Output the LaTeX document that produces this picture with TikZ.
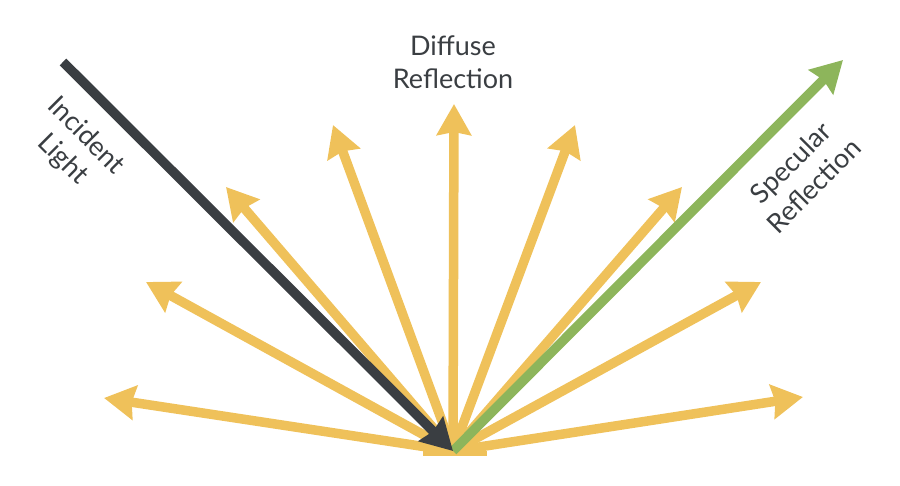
\documentclass[tikz,border=0pt]{standalone}
\usepackage{fontspec}
\setmainfont{Lato}
\usetikzlibrary{arrows.meta}
\definecolor{sun}{HTML}{EFC15A}
\definecolor{leaf}{HTML}{8DB55B}
\definecolor{ink}{HTML}{3A3E42}
\begin{document}
\begin{tikzpicture}[x=1pt,y=1pt]
	\tikzset{ray/.style={line width=9.5pt,-{Stealth[length=31pt,width=34pt,inset=3pt]}},
		label/.style={text=ink,font=\fontsize{27}{33}\selectfont,align=center}}
	\useasboundingbox (0,0) rectangle (900,485);
	\coordinate (o) at (453,34);
	\coordinate (bl) at (423,32);
	\coordinate (br) at (487,32);
	\draw[sun,line width=5pt] (bl) -- (br);
	\foreach \x/\y [count=\i] in {104/87,146/203,226/298,333/360,454/381,575/360,682/298,761/203,803/88}
		\draw[ray,sun] (o) -- (\x,\y) coordinate (d\i);
	\coordinate (s) at (843,425);
	\coordinate (i) at (63,423);
	\draw[ray,leaf] (o) -- (s);
	\draw[ray,ink] (i) -- (o);
	\node[label] (diffuse) at (453,423) {Diffuse\\Reflection};
	\node[label,rotate=-45] (incident) at (74,337) {Incident\\Light};
	\node[label,rotate=45] (specular) at (802,311) {Specular\\Reflection};
\end{tikzpicture}
\end{document}
